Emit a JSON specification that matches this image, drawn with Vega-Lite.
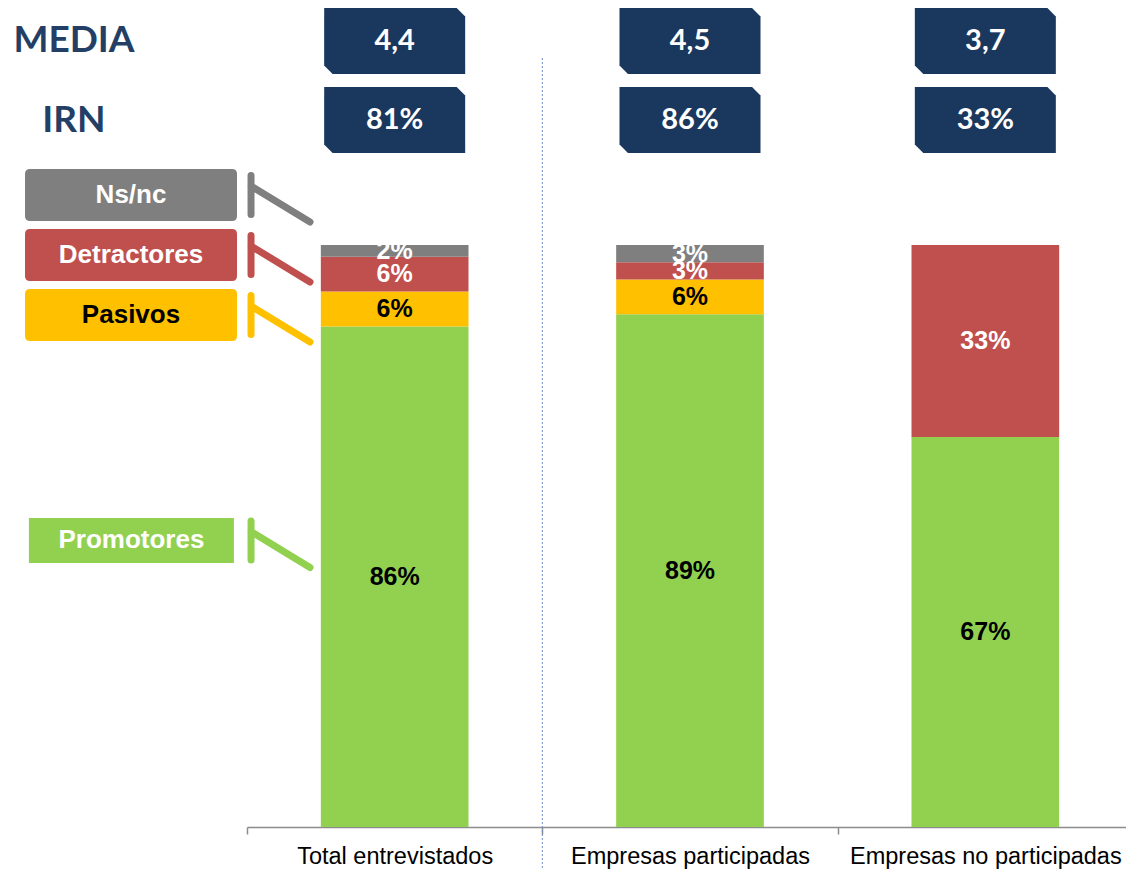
{
  "$schema": "https://vega.github.io/schema/vega-lite/v6.json",
  "padding": 0,
  "spacing": 0,
  "bounds": "flush",
  "background": "white",
  "config": {
    "view": {"stroke": null},
    "locale": {"number": {"decimal": ",", "thousands": ".", "grouping": [3], "currency": ["", " €"]}}
  },
  "datasets": {
    "main": [
      {"group": "Total entrevistados", "cat": "Promotores", "pct": 0.86},
      {"group": "Total entrevistados", "cat": "Pasivos", "pct": 0.06},
      {"group": "Total entrevistados", "cat": "Detractores", "pct": 0.06},
      {"group": "Total entrevistados", "cat": "Ns/nc", "pct": 0.02},
      {"group": "Empresas participadas", "cat": "Promotores", "pct": 0.89},
      {"group": "Empresas participadas", "cat": "Pasivos", "pct": 0.06},
      {"group": "Empresas participadas", "cat": "Detractores", "pct": 0.03},
      {"group": "Empresas participadas", "cat": "Ns/nc", "pct": 0.03},
      {"group": "Empresas no participadas", "cat": "Promotores", "pct": 0.67},
      {"group": "Empresas no participadas", "cat": "Detractores", "pct": 0.33}
    ],
    "summary": [
      {"group": "Total entrevistados", "media": 4.4, "irn": 0.81},
      {"group": "Empresas participadas", "media": 4.5, "irn": 0.86},
      {"group": "Empresas no participadas", "media": 3.7, "irn": 0.33}
    ]
  },
  "hconcat": [
    {
      "width": 247,
      "height": 827,
      "layer": [
        {
          "data": {"values": [{"label": "MEDIA"}]},
          "mark": {"type": "text", "font": "Lato", "fontWeight": "bold", "fontSize": 37, "color": "#243F66", "align": "center", "baseline": "middle"},
          "encoding": {
            "x": {"datum": 0.2996, "type": "quantitative", "scale": {"domain": [0, 1], "nice": false, "zero": false}, "axis": null},
            "y": {"datum": 1.3505, "type": "quantitative", "scale": {"domain": [0, 1.421], "nice": false}, "axis": null},
            "text": {"field": "label"}
          }
        },
        {
          "data": {"values": [{"label": "IRN"}]},
          "mark": {"type": "text", "font": "Lato", "fontWeight": "bold", "fontSize": 37, "color": "#243F66", "align": "center", "baseline": "middle"},
          "encoding": {
            "x": {"datum": 0.2996, "type": "quantitative", "scale": {"domain": [0, 1], "nice": false, "zero": false}, "axis": null},
            "y": {"datum": 1.2131, "type": "quantitative", "scale": {"domain": [0, 1.421], "nice": false}, "axis": null},
            "text": {"field": "label"}
          }
        },
        {
          "data": {"values": [{"cat": "Ns/nc"}]},
          "encoding": {
            "y": {"datum": 1.0859, "type": "quantitative", "scale": {"domain": [0, 1.421], "nice": false}, "axis": null},
            "color": {"field": "cat", "type": "nominal", "scale": {"domain": ["Promotores", "Pasivos", "Detractores", "Ns/nc"], "range": ["#92D050", "#FFC000", "#C0504D", "#7F7F7F"]}, "legend": null}
          },
          "layer": [
            {"mark": {"type": "point", "shape": "M-0.953,-0.245L0.953,-0.245Q1,-0.245 1,-0.198L1,0.198Q1,0.245 0.953,0.245L-0.953,0.245Q-1,0.245 -1,0.198L-1,-0.198Q-1,-0.245 -0.953,-0.245Z", "size": 44944, "filled": true, "opacity": 1, "strokeWidth": 0},
             "encoding": {"x": {"datum": 0.5304, "type": "quantitative", "scale": {"domain": [0, 1], "nice": false, "zero": false}, "axis": null}}},
            {"mark": {"type": "text", "font": "Liberation Sans", "fontWeight": "bold", "fontSize": 26, "align": "center", "baseline": "middle"},
             "encoding": {"x": {"datum": 0.5304, "type": "quantitative"}, "text": {"field": "cat"}, "color": {"value": "#FFFFFF"}}},
            {"mark": {"type": "point", "shape": "M-0.882,-0.574L-0.882,0.574M-0.882,-0.265L0.853,0.794", "size": 4624, "filled": false, "strokeWidth": 7, "strokeCap": "round", "opacity": 1},
             "encoding": {"x": {"datum": 1.1377, "type": "quantitative"}}}
          ]
        },
        {
          "data": {"values": [{"cat": "Detractores"}]},
          "encoding": {
            "y": {"datum": 0.9828, "type": "quantitative", "scale": {"domain": [0, 1.421], "nice": false}, "axis": null},
            "color": {"field": "cat", "type": "nominal", "scale": {"domain": ["Promotores", "Pasivos", "Detractores", "Ns/nc"], "range": ["#92D050", "#FFC000", "#C0504D", "#7F7F7F"]}, "legend": null}
          },
          "layer": [
            {"mark": {"type": "point", "shape": "M-0.953,-0.245L0.953,-0.245Q1,-0.245 1,-0.198L1,0.198Q1,0.245 0.953,0.245L-0.953,0.245Q-1,0.245 -1,0.198L-1,-0.198Q-1,-0.245 -0.953,-0.245Z", "size": 44944, "filled": true, "opacity": 1, "strokeWidth": 0},
             "encoding": {"x": {"datum": 0.5304, "type": "quantitative"}}},
            {"mark": {"type": "text", "font": "Liberation Sans", "fontWeight": "bold", "fontSize": 26, "align": "center", "baseline": "middle"},
             "encoding": {"x": {"datum": 0.5304, "type": "quantitative"}, "text": {"field": "cat"}, "color": {"value": "#FFFFFF"}}},
            {"mark": {"type": "point", "shape": "M-0.882,-0.574L-0.882,0.574M-0.882,-0.265L0.853,0.794", "size": 4624, "filled": false, "strokeWidth": 7, "strokeCap": "round", "opacity": 1},
             "encoding": {"x": {"datum": 1.1377, "type": "quantitative"}}}
          ]
        },
        {
          "data": {"values": [{"cat": "Pasivos"}]},
          "encoding": {
            "y": {"datum": 0.8797, "type": "quantitative", "scale": {"domain": [0, 1.421], "nice": false}, "axis": null},
            "color": {"field": "cat", "type": "nominal", "scale": {"domain": ["Promotores", "Pasivos", "Detractores", "Ns/nc"], "range": ["#92D050", "#FFC000", "#C0504D", "#7F7F7F"]}, "legend": null}
          },
          "layer": [
            {"mark": {"type": "point", "shape": "M-0.953,-0.245L0.953,-0.245Q1,-0.245 1,-0.198L1,0.198Q1,0.245 0.953,0.245L-0.953,0.245Q-1,0.245 -1,0.198L-1,-0.198Q-1,-0.245 -0.953,-0.245Z", "size": 44944, "filled": true, "opacity": 1, "strokeWidth": 0},
             "encoding": {"x": {"datum": 0.5304, "type": "quantitative"}}},
            {"mark": {"type": "text", "font": "Liberation Sans", "fontWeight": "bold", "fontSize": 26, "align": "center", "baseline": "middle"},
             "encoding": {"x": {"datum": 0.5304, "type": "quantitative"}, "text": {"field": "cat"}, "color": {"value": "#000000"}}},
            {"mark": {"type": "point", "shape": "M-0.882,-0.574L-0.882,0.574M-0.882,-0.265L0.853,0.794", "size": 4624, "filled": false, "strokeWidth": 7, "strokeCap": "round", "opacity": 1},
             "encoding": {"x": {"datum": 1.1377, "type": "quantitative"}}}
          ]
        },
        {
          "data": {"values": [{"cat": "Promotores"}]},
          "encoding": {
            "y": {"datum": 0.4923, "type": "quantitative", "scale": {"domain": [0, 1.421], "nice": false}, "axis": null},
            "color": {"field": "cat", "type": "nominal", "scale": {"domain": ["Promotores", "Pasivos", "Detractores", "Ns/nc"], "range": ["#92D050", "#FFC000", "#C0504D", "#7F7F7F"]}, "legend": null}
          },
          "layer": [
            {"mark": {"type": "point", "shape": "M-1,-0.2195L1,-0.2195L1,0.2195L-1,0.2195Z", "size": 42025, "filled": true, "opacity": 1, "strokeWidth": 0},
             "encoding": {"x": {"datum": 0.532, "type": "quantitative"}}},
            {"mark": {"type": "text", "font": "Liberation Sans", "fontWeight": "bold", "fontSize": 26, "align": "center", "baseline": "middle"},
             "encoding": {"x": {"datum": 0.532, "type": "quantitative"}, "text": {"field": "cat"}, "color": {"value": "#FFFFFF"}}},
            {"mark": {"type": "point", "shape": "M-0.882,-0.574L-0.882,0.574M-0.882,-0.265L0.853,0.794", "size": 4624, "filled": false, "strokeWidth": 7, "strokeCap": "round", "opacity": 1},
             "encoding": {"x": {"datum": 1.1377, "type": "quantitative"}}}
          ]
        }
      ]
    },
    {
      "width": 886,
      "height": 827,
      "encoding": {
        "x": {
          "field": "group", "type": "nominal",
          "scale": {"domain": ["Total entrevistados", "Empresas participadas", "Empresas no participadas"], "paddingInner": 0, "paddingOuter": 0},
          "axis": {"title": null, "domainColor": "#8C8C8C", "domainWidth": 1.5, "tickColor": "#8C8C8C", "tickWidth": 1.5, "tickSize": 7, "tickBand": "extent", "labelFont": "Liberation Sans", "labelFontSize": 23.5, "labelColor": "#000000", "labelPadding": 10, "labelLimit": 400, "labelAngle": 0, "labelOverlap": false, "grid": false}
        }
      },
      "layer": [
        {
          "data": {"values": [{}]},
          "mark": {"type": "rule", "strokeDash": [2, 2], "color": "#6F8DBB", "strokeWidth": 1},
          "encoding": {
            "x": {"datum": "Empresas participadas", "type": "nominal", "bandPosition": 0},
            "y": {"datum": 1.3213, "type": "quantitative", "scale": {"domain": [0, 1.421], "nice": false}, "axis": null},
            "y2": {"datum": -0.0722}
          }
        },
        {
          "data": {"name": "main"},
          "transform": [
            {"stack": "pct", "groupby": ["group"], "offset": "normalize", "as": ["y0", "y1"]}
          ],
          "mark": {"type": "bar", "width": {"band": 0.5}},
          "encoding": {
            "y": {"field": "y1", "type": "quantitative", "scale": {"domain": [0, 1.421], "nice": false}, "axis": null},
            "y2": {"field": "y0"},
            "color": {"field": "cat", "type": "nominal", "scale": {"domain": ["Promotores", "Pasivos", "Detractores", "Ns/nc"], "range": ["#92D050", "#FFC000", "#C0504D", "#7F7F7F"]}, "legend": null}
          }
        },
        {
          "data": {"name": "main"},
          "transform": [
            {"stack": "pct", "groupby": ["group"], "offset": "normalize", "as": ["y0", "y1"]},
            {"fold": ["y0", "y1"], "as": ["edge", "pos"]},
            {"aggregate": [{"op": "mean", "field": "pos", "as": "ymid"}], "groupby": ["group", "cat", "pct"]}
          ],
          "mark": {"type": "text", "font": "Liberation Sans", "fontWeight": "bold", "fontSize": 25, "align": "center", "baseline": "middle"},
          "encoding": {
            "y": {"field": "ymid", "type": "quantitative"},
            "text": {"field": "pct", "type": "quantitative", "format": ".0%"},
            "color": {"condition": {"test": "datum.cat == 'Detractores' || datum.cat == 'Ns/nc'", "value": "#FFFFFF"}, "value": "#000000"}
          }
        },
        {
          "data": {"name": "summary"},
          "mark": {"type": "point", "shape": "M-1,-0.468L0.88,-0.468L1,-0.348L1,0.468L-0.88,0.468L-1,0.348Z", "size": 19881, "filled": true, "opacity": 1, "color": "#1A375E", "strokeWidth": 0},
          "encoding": {"y": {"datum": 1.3505, "type": "quantitative"}}
        },
        {
          "data": {"name": "summary"},
          "mark": {"type": "text", "font": "Lato", "fontWeight": "bold", "fontSize": 29, "color": "#FFFFFF", "align": "center", "baseline": "middle"},
          "encoding": {"y": {"datum": 1.3505, "type": "quantitative"}, "text": {"field": "media", "type": "quantitative", "format": ".1f"}}
        },
        {
          "data": {"name": "summary"},
          "mark": {"type": "point", "shape": "M-1,-0.468L0.88,-0.468L1,-0.348L1,0.468L-0.88,0.468L-1,0.348Z", "size": 19881, "filled": true, "opacity": 1, "color": "#1A375E", "strokeWidth": 0},
          "encoding": {"y": {"datum": 1.2148, "type": "quantitative"}}
        },
        {
          "data": {"name": "summary"},
          "mark": {"type": "text", "font": "Lato", "fontWeight": "bold", "fontSize": 29, "color": "#FFFFFF", "align": "center", "baseline": "middle"},
          "encoding": {"y": {"datum": 1.2148, "type": "quantitative"}, "text": {"field": "irn", "type": "quantitative", "format": ".0%"}}
        }
      ]
    }
  ]
}
